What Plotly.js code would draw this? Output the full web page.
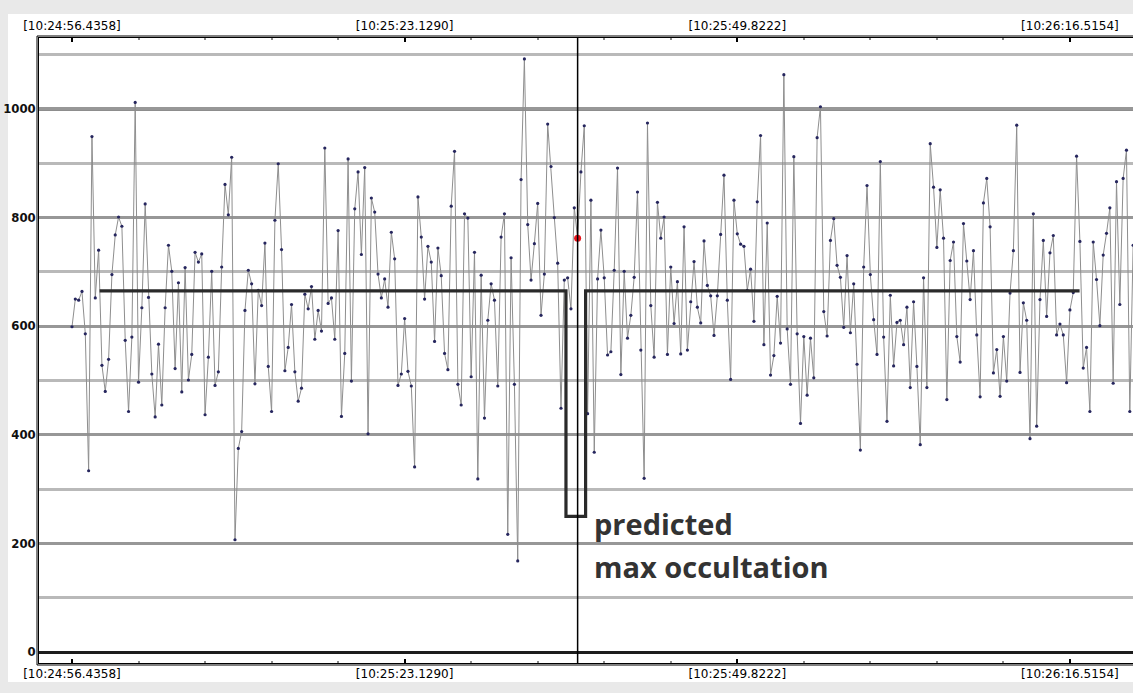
<!DOCTYPE html>
<html>
<head>
<meta charset="utf-8">
<script src="https://cdn.plot.ly/plotly-3.0.1.min.js"></script>
<style>html,body{margin:0;padding:0;background:#e9e9e9;}#chart{width:1133px;height:693px;}</style>
</head>
<body>
<div id="chart"></div>
<script>
// Frame-by-frame light curve (one value per video frame)
const intensity = [
599,650,648,664,586,334,949,652,740,528,480,539,695,768,801,784,574,443,580,1012,497,634,825,653,512,433,567,455,634,749,701,522,680,
479,708,501,548,736,718,733,437,543,701,491,516,709,861,805,911,207,375,406,629,703,678,494,666,638,753,526,443,795,899,741,518,561,640,516,462,486,659,632,673,576,
629,591,928,642,652,576,776,434,550,908,499,816,884,732,892,402,836,810,696,652,687,635,773,724,491,512,614,517,490,341,838,764,650,747,718,572,744,693,550,520,821,
922,493,455,807,799,507,736,319,694,431,611,678,648,490,764,807,217,726,493,168,870,1092,787,685,752,826,620,696,972,894,800,716,449,685,689,632,818,762,884,969,
439,832,368,687,777,689,547,553,703,891,511,701,578,620,690,847,556,320,974,638,543,828,762,801,548,709,605,682,549,783,556,645,719,635,606,757,675,656,583,656,769,878,
648,502,832,770,751,747,666,705,609,829,951,566,790,510,546,655,569,1063,595,493,912,586,421,581,473,578,505,947,1004,627,582,758,798,712,690,598,730,588,678,530,372,709,
859,695,612,548,903,580,425,657,527,607,611,566,635,487,645,526,382,689,487,936,856,745,851,762,465,721,755,581,534,789,720,649,739,584,470,827,872,783,514,557,471,
581,499,661,739,970,515,643,611,393,807,416,649,758,618,735,767,584,604,584,496,630,662,913,756,523,561,443,755,686,601,731,771,818,495,866,640,872,924,443,749
];
const frameIndex = intensity.map((_, i) => i);

// Predicted occultation model (frame index, intensity)
const predX = [8.3, 148.5, 148.5, 154.4, 154.4, 302.9];
const predY = [665, 665, 250, 250, 665, 665];

// Cursor / highlighted frame
const cursorFrame = 152;

// Axis ticks
const xTickVals = [0, 100, 200, 300];
const xTickText = ['[10:24:56.4358]', '[10:25:23.1290]', '[10:25:49.8222]', '[10:26:16.5154]'];
const yTickVals = [0, 200, 400, 600, 800, 1000];
const yTickText = ['0', '200', '400', '600', '800', '1000'];

const noteLines = ['predicted', 'max occultation'];

const W = 1133, H = 693, ML = 39, MR = 0, MT = 38, MB = 30;
const PW = W - ML - MR, PH = H - MT - MB;
const xRange = [-9.92, 318.96];
const yRange = [-19.9, 1130.5];

const tickFont = {family: 'DejaVu Sans', size: 12, color: '#000'};

const traces = [
  {
    x: frameIndex, y: intensity, type: 'scatter', mode: 'lines+markers',
    line: {color: '#8e8e8e', width: 1},
    marker: {color: '#26265e', size: 3.2},
    hoverinfo: 'skip', showlegend: false, cliponaxis: true
  },
  {
    x: [frameIndex[cursorFrame]], y: [intensity[cursorFrame]], type: 'scatter', mode: 'markers',
    marker: {color: '#e8141c', size: 7},
    hoverinfo: 'skip', showlegend: false
  },
  {
    x: predX, y: predY, xaxis: 'x2', type: 'scatter', mode: 'lines',
    line: {color: '#2a2a2a', width: 3.2},
    hoverinfo: 'skip', showlegend: false
  }
];

const xCommon = {
  range: xRange, showgrid: false, zeroline: false,
  tickmode: 'array', tickvals: xTickVals, ticktext: xTickText,
  ticks: 'inside', ticklen: 4, tickwidth: 2, tickcolor: '#000',
  tickfont: tickFont,
  minor: {dtick: 20, tick0: 0, ticks: 'inside', ticklen: 2, tickwidth: 2, tickcolor: '#8a8a8a', showgrid: false}
};

const layout = {
  width: W, height: H,
  margin: {l: ML, r: MR, t: MT, b: MB, pad: 0},
  paper_bgcolor: '#e9e9e9', plot_bgcolor: '#ffffff',
  showlegend: false,
  xaxis: Object.assign({}, xCommon, {side: 'bottom', showline: true, linecolor: '#000', linewidth: 1, mirror: true}),
  xaxis2: Object.assign({}, xCommon, {overlaying: 'x', side: 'top', showline: false, ticklabelstandoff: 5}),
  yaxis: {
    range: yRange, tickmode: 'array', tickvals: yTickVals, ticktext: yTickText,
    ticks: '', showline: true, linecolor: '#000', linewidth: 1, mirror: true,
    tickfont: {family: 'DejaVu Sans', size: 11.7, color: '#111', weight: 'bold'},
    showgrid: true, gridcolor: '#979797', gridwidth: 3,
    zeroline: true, zerolinecolor: '#1c1c1c', zerolinewidth: 3,
    minor: {dtick: 100, tick0: 0, showgrid: true, gridcolor: '#b9b9b9', gridwidth: 3, ticks: ''}
  },
  shapes: [
    {type: 'rect', xref: 'paper', yref: 'paper', layer: 'below',
     x0: (8 - ML) / PW, x1: 1.02, y0: -(682 - (H - MB)) / PH, y1: 1 + (MT - 14) / PH,
     fillcolor: '#ffffff', line: {width: 0}},
    {type: 'line', xref: 'paper', yref: 'y', layer: 'between', x0: 0, x1: 1, y0: 1000, y1: 1000,
     line: {color: '#1c1c1c', width: 3}},
    {type: 'line', xref: 'x', yref: 'paper', layer: 'above', x0: cursorFrame, x1: cursorFrame, y0: 0, y1: 1,
     line: {color: '#000', width: 1.5}},
    {type: 'rect', xref: 'paper', yref: 'paper', layer: 'above',
     x0: -2 / PW, x1: 1 + 2 / PW, y0: -2 / PH, y1: 1 + 2 / PH,
     line: {color: '#000', width: 1}, fillcolor: 'rgba(0,0,0,0)'}
  ],
  annotations: [
    {text: noteLines[0], xref: 'x', yref: 'y', x: 157.2, y: 236, xanchor: 'left', yanchor: 'middle', xshift: -3,
     showarrow: false, font: {family: 'Open Sans', size: 29, color: '#333', weight: 'bold'}},
    {text: noteLines[1], xref: 'x', yref: 'y', x: 157.2, y: 157, xanchor: 'left', yanchor: 'middle', xshift: -3,
     showarrow: false, font: {family: 'Open Sans', size: 29, color: '#333', weight: 'bold'}}
  ]
};

Plotly.newPlot('chart', traces, layout, {staticPlot: true, displayModeBar: false});
</script>
</body>
</html>
